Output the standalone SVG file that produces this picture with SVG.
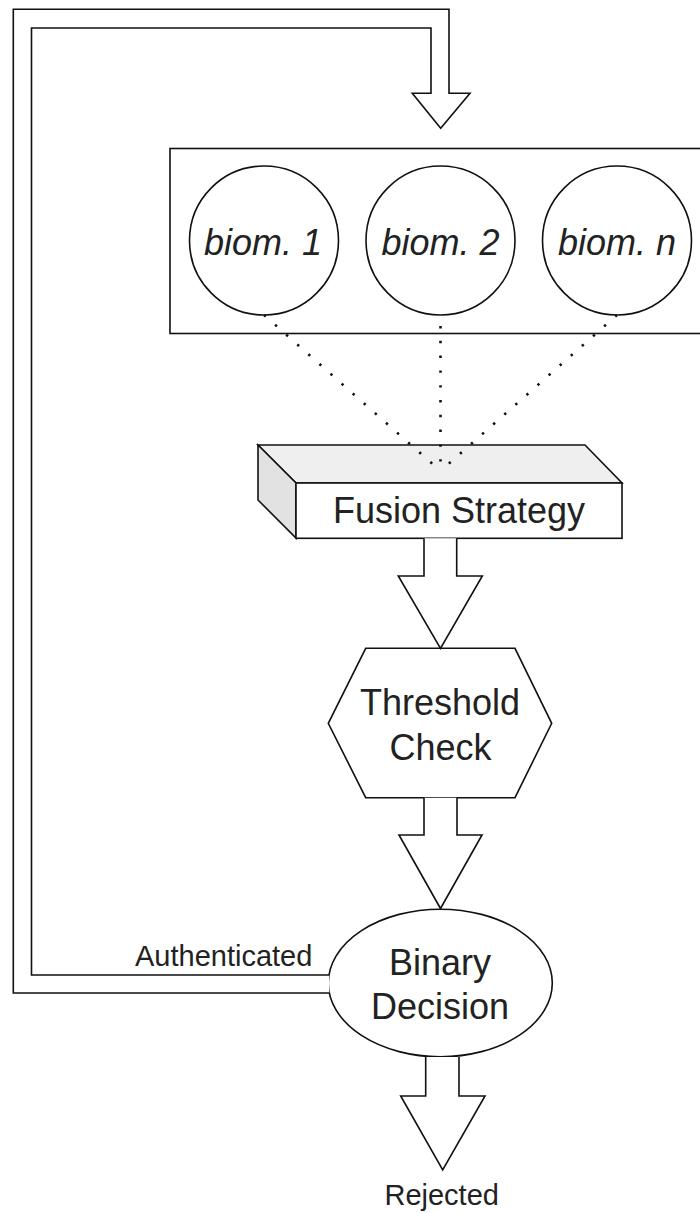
<svg xmlns="http://www.w3.org/2000/svg" width="700" height="1213" viewBox="0 0 700 1213">
  <style>
    .shape { fill: #ffffff; stroke: #111111; stroke-width: 1.6; }
    .flow { fill: #ffffff; stroke: #111111; stroke-width: 1.6; stroke-linejoin: miter; }
    .dots { fill: none; stroke: #111111; stroke-width: 2.6; stroke-dasharray: 2.4 12.4; }
    .label { font-family: "Liberation Sans", Arial, sans-serif; font-size: 36px; fill: #222222; text-anchor: middle; }
    .ital { font-style: italic; }
    .edge-label { font-family: "Liberation Sans", Arial, sans-serif; font-size: 29px; fill: #222222; }
  </style>

  <!-- biometric container with three modality circles -->
  <g id="biometrics">
    <rect class="shape" x="170" y="148.5" width="541" height="185"/>
    <g id="biom1">
      <circle class="shape" cx="264" cy="240.5" r="74.5"/>
      <text class="label ital" x="263" y="255">biom. 1</text>
    </g>
    <g id="biom2">
      <circle class="shape" cx="440.5" cy="240.5" r="74.5"/>
      <text class="label ital" x="440.5" y="255">biom. 2</text>
    </g>
    <g id="biomn">
      <circle class="shape" cx="617" cy="240.5" r="74.5"/>
      <text class="label ital" x="617" y="255">biom. n</text>
    </g>
  </g>

  <!-- fusion strategy block (3D box) -->
  <g id="fusion">
    <polygon points="258,445 585,445 622,483 296,483" fill="#efefef" stroke="#111111" stroke-width="1.6" stroke-linejoin="miter"/>
    <polygon points="258,445 296,483 296,538 258,500" fill="#e2e2e2" stroke="#111111" stroke-width="1.6" stroke-linejoin="miter"/>
    <rect class="shape" x="296" y="483" width="326" height="55.3"/>
    <text class="label" x="459" y="523.3">Fusion Strategy</text>
  </g>

  <!-- threshold check hexagon -->
  <g id="threshold">
    <polygon class="shape" points="365.7,648.3 515,648.3 551.7,723.3 515,797.7 365.7,797.7 328.3,723.3"/>
    <text class="label" x="440" y="715">Threshold</text>
    <text class="label" x="440.5" y="760">Check</text>
  </g>

  <!-- binary decision ellipse -->
  <g id="decision">
    <ellipse class="shape" cx="440.3" cy="983" rx="112" ry="73.8"/>
    <text class="label" x="440" y="975">Binary</text>
    <text class="label" x="440" y="1019.3">Decision</text>
  </g>

  <g id="connectors">
    <!-- dotted links from each modality to the fusion block -->
    <line class="dots" x1="264" y1="315" x2="440.5" y2="471"/>
    <line class="dots" x1="440.5" y1="326" x2="440.5" y2="471"/>
    <line class="dots" x1="617" y1="315" x2="440.5" y2="471"/>

    <!-- block arrows down the pipeline -->
    <path class="flow" d="M424,538.3 V576 H398.3 L440.5,648.3 L482.3,576 H456.7 V538.3"/>
    <path class="flow" d="M424,797.7 V835 H399 L440.5,908.5 L482,835 H457 V797.7"/>
    <path class="flow" d="M425.7,1057 V1096 H400.7 L442.7,1170 L485,1096 H459 V1057"/>

    <!-- feedback loop back to the biometrics container -->
    <path class="flow" d="M329,975 H31.5 V28 H431 V93.3 H412.3 L440.7,128.3 L470,93.3 H449 V9.3 H13.3 V993 H329.3"/>

    <text class="edge-label" x="135" y="966">Authenticated</text>
    <text class="edge-label" x="441.7" y="1205" text-anchor="middle">Rejected</text>
  </g>
</svg>
